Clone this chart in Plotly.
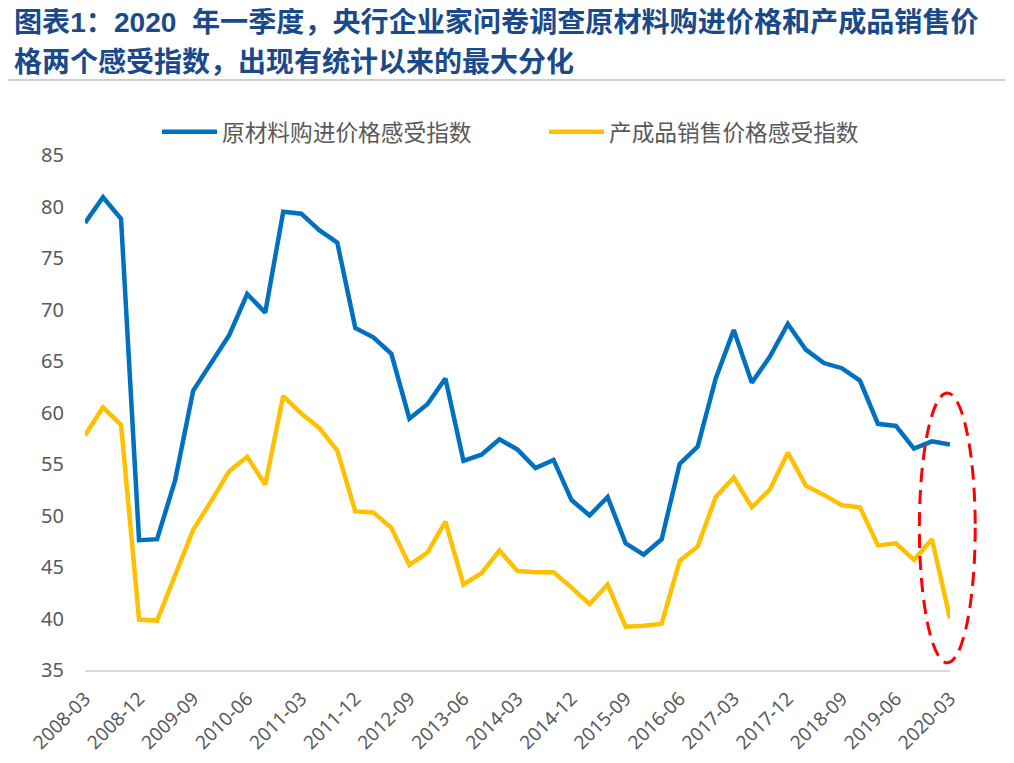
import plotly.graph_objects as go

quarters = []
for yr in range(2008, 2021):
    for m in ["03", "06", "09", "12"]:
        quarters.append(f"{yr}-{m}")
quarters = quarters[:49]  # 2008-03 .. 2020-03

raw_material = [78.4, 80.9, 78.8, 47.6, 47.7, 53.4, 62.1, 64.8, 67.5, 71.5,
                69.7, 79.5, 79.3, 77.7, 76.5, 68.2, 67.3, 65.7, 59.4, 60.8,
                63.3, 55.3, 55.9, 57.4, 56.4, 54.6, 55.4, 51.5, 50.0, 51.8,
                47.3, 46.2, 47.7, 55.0, 56.7, 63.3, 68.0, 62.9, 65.4, 68.6,
                66.1, 64.8, 64.3, 63.1, 58.9, 58.7, 56.5, 57.2, 56.9]

product_sales = [57.8, 60.5, 58.8, 39.9, 39.8, 44.2, 48.6, 51.4, 54.3, 55.7,
                 53.0, 61.6, 59.9, 58.5, 56.3, 50.4, 50.3, 48.8, 45.2, 46.4,
                 49.4, 43.3, 44.4, 46.6, 44.6, 44.5, 44.5, 43.0, 41.4, 43.3,
                 39.2, 39.3, 39.5, 45.6, 47.0, 51.8, 53.7, 50.8, 52.5, 56.1,
                 52.9, 52.0, 51.0, 50.8, 47.1, 47.3, 45.7, 47.7, 40.0]

series_names = ["原材料购进价格感受指数", "产成品销售价格感受指数"]
tick_labels = quarters[::3]
y_ticks = [35, 40, 45, 50, 55, 60, 65, 70, 75, 80, 85]
Y_MIN, Y_MAX = 35, 85
X_MAX = len(quarters) - 1

# highlight ellipse bounds (category index / value units)
ell_x = (46.3, 49.4)
ell_y = (35.7, 61.9)

title_line1 = "图表1：2020\u00a0\u00a0年一季度，央行企业家问卷调查原材料购进价格和产成品销售价"
title_line2 = "格两个感受指数，出现有统计以来的最大分化"

FONT = "Noto Sans, Noto Sans CJK SC, sans-serif"
GRAY = "#595959"

fig = go.Figure()
fig.add_trace(go.Scatter(x=quarters, y=raw_material, mode="lines",
                         name=series_names[0],
                         line=dict(color="#0070C0", width=4.5)))
fig.add_trace(go.Scatter(x=quarters, y=product_sales, mode="lines",
                         name=series_names[1],
                         line=dict(color="#FFC000", width=4.5)))

# dashed red ellipse (paper coords so it is not clipped at the plot edge)
fig.add_shape(type="circle", xref="paper", yref="paper",
              x0=ell_x[0] / X_MAX, x1=ell_x[1] / X_MAX,
              y0=(ell_y[0] - Y_MIN) / (Y_MAX - Y_MIN),
              y1=(ell_y[1] - Y_MIN) / (Y_MAX - Y_MIN),
              line=dict(color="#FF0000", width=3, dash="14px,8px"))

# separator rule under the title
fig.add_shape(type="line", xref="paper", yref="paper",
              x0=-0.089, x1=1.0636, y0=1.1456, y1=1.1456,
              line=dict(color="#BFBFBF", width=1.5))

for txt, yy, sz in [(title_line1, 22, 28.1), (title_line2, 62, 28)]:
    fig.add_annotation(text=f"<b>{txt}</b>", xref="paper", yref="paper",
                       x=(12 - 85) / 865, y=(670 - yy) / 515,
                       xanchor="left", yanchor="middle", showarrow=False,
                       font=dict(family="Liberation Sans, Noto Sans CJK SC",
                                 size=sz, color="#1B4A8A"))

fig.update_layout(
    width=1014, height=763,
    margin=dict(l=77, r=72, t=147, b=101),
    paper_bgcolor="white", plot_bgcolor="white",
    font=dict(family=FONT, color=GRAY),
    showlegend=True,
    legend=dict(orientation="h", x=(157 - 85) / 865, xanchor="left",
                y=(670 - 132) / 515, yanchor="middle",
                font=dict(size=22.7, color=GRAY, family="Noto Sans CJK SC"),
                itemwidth=55, entrywidth=317, bgcolor="rgba(0,0,0,0)"),
    xaxis=dict(type="category", range=[0, X_MAX], automargin=False,
               tickmode="array", tickvals=tick_labels, ticktext=tick_labels,
               tickangle=-45, tickfont=dict(size=19, color=GRAY),
               showline=True, linecolor="#D9D9D9", linewidth=2,
               showgrid=False, ticks="", zeroline=False,
               ticklabelstandoff=8),
    yaxis=dict(range=[Y_MIN, Y_MAX], tickvals=y_ticks, automargin=False,
               tickfont=dict(size=20, color=GRAY),
               showgrid=False, zeroline=False, showline=False, ticks="",
               ticklabelstandoff=20),
)

fig.write_html("out.html")
